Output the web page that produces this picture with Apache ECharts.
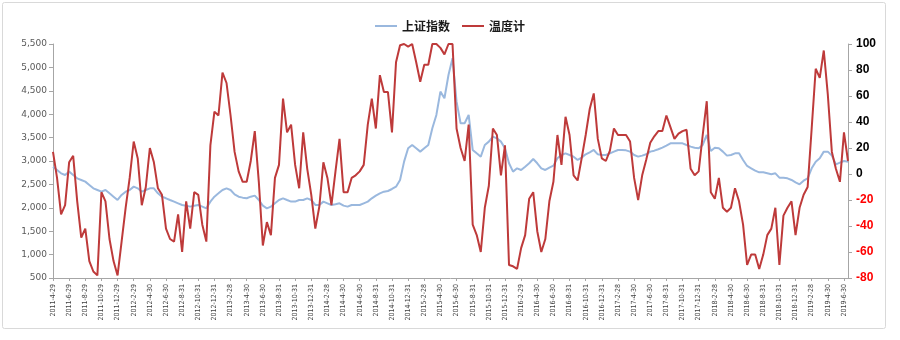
<!DOCTYPE html>
<html>
<head>
<meta charset="utf-8">
<script src="https://cdn.jsdelivr.net/npm/echarts@6/dist/echarts.min.js"></script>
<style>
html,body{margin:0;padding:0;background:#fff;}
#c{width:900px;height:340px;}
</style>
</head>
<body>
<div id="c"></div>
<script>
var tickLabels = ['2011-4-29','2011-6-29','2011-8-29','2011-10-29','2011-12-29','2012-2-29','2012-4-30','2012-6-30','2012-8-31','2012-10-31','2012-12-31','2013-2-28','2013-4-30','2013-6-30','2013-8-31','2013-10-31','2013-12-31','2014-2-28','2014-4-30','2014-6-30','2014-8-31','2014-10-31','2014-12-31','2015-2-28','2015-4-30','2015-6-30','2015-8-31','2015-10-31','2015-12-31','2016-2-29','2016-4-30','2016-6-30','2016-8-31','2016-10-31','2016-12-31','2017-2-28','2017-4-30','2017-6-30','2017-8-31','2017-10-31','2017-12-31','2018-2-28','2018-4-30','2018-6-30','2018-8-31','2018-10-31','2018-12-31','2019-2-28','2019-4-30','2019-6-30'];

// 上证指数 (about two points per month)
var szIndex = [2879,2808,2737,2701,2773,2701,2630,2595,2559,2488,2416,2381,2345,2381,2309,2238,2167,2274,2345,2381,
2452,2416,2345,2381,2416,2416,2309,2238,2203,2167,2132,2096,2060,2046,2025,2046,2060,2025,1989,2132,
2238,2309,2381,2416,2381,2288,2238,2217,2203,2238,2260,2167,2046,1989,2025,2096,2167,2203,2167,2132,
2132,2167,2167,2203,2167,2060,2060,2132,2096,2060,2075,2096,2046,2025,2060,2060,2060,2096,2132,2203,
2260,2309,2345,2359,2402,2452,2595,2986,3271,3342,3271,3200,3271,3342,3699,3984,4482,4340,4838,5194,
4268,3806,3806,3984,3236,3164,3093,3342,3414,3521,3485,3414,3271,2951,2773,2844,2808,2879,2951,3043,
2951,2844,2808,2858,2901,3058,3129,3164,3129,3093,3022,3072,3143,3186,3236,3143,3129,3129,3164,3200,
3236,3236,3228,3200,3129,3093,3115,3143,3200,3221,3250,3285,3328,3378,3378,3378,3378,3342,3307,3285,
3271,3342,3556,3214,3285,3271,3200,3115,3129,3164,3164,3022,2894,2844,2794,2758,2758,2737,2716,2737,
2644,2644,2630,2595,2545,2502,2580,2630,2844,2986,3058,3200,3200,3115,2929,2965,3001,2986];

// 温度计
var thermo = [17,-3,-31,-24,9,14,-21,-49,-42,-67,-75,-78,-14,-21,-50,-67,-78,-52,-26,-3,
25,12,-24,-10,20,9,-11,-16,-42,-50,-52,-31,-60,-21,-42,-14,-16,-39,-52,22,
48,45,78,70,45,17,2,-6,-6,10,33,-6,-55,-37,-47,-3,7,58,32,38,
7,-11,32,4,-16,-42,-25,9,-3,-24,2,27,-14,-14,-3,-1,2,7,38,58,
35,76,63,63,32,86,99,100,98,100,86,71,84,84,100,100,97,92,100,100,
35,20,10,38,-39,-47,-60,-26,-9,35,30,-1,22,-70,-71,-73,-57,-47,-19,-14,
-44,-60,-50,-21,-6,30,7,44,30,-1,-5,12,30,50,62,27,12,10,18,35,
30,30,30,25,-3,-20,-1,11,24,29,33,33,45,36,27,31,33,34,4,-1,
2,30,56,-14,-19,-3,-26,-29,-26,-11,-21,-39,-70,-62,-62,-73,-62,-47,-42,-26,
-70,-32,-26,-21,-47,-26,-16,-10,35,81,74,95,61,17,4,-6,32,10];

var categories = [];
for (var k = 0; k < thermo.length; k++) {
  var base = tickLabels[Math.floor(k / 4)] || tickLabels[tickLabels.length - 1];
  categories.push(k % 4 === 0 ? base : base + ' +' + (k % 4));
}

var chart = echarts.init(document.getElementById('c'), null, {renderer: 'canvas'});
chart.setOption({
  animation: false,
  backgroundColor: '#fff',
  graphic: [{
    type: 'rect', shape: {x: 2.5, y: 2.5, width: 883, height: 326, r: 2},
    style: {fill: 'none', stroke: '#d9d9d9', lineWidth: 1}, silent: true
  }],
  legend: {
    top: 15, left: 'center',
    itemWidth: 22, itemHeight: 2, itemGap: 12,
    textStyle: {fontSize: 12, fontWeight: 'bold', color: '#1a1a1a', fontFamily: 'Noto Sans CJK SC'},
    data: [{name: '上证指数', icon: 'rect'}, {name: '温度计', icon: 'rect'}]
  },
  grid: {left: 53, right: 52, top: 44, bottom: 62},
  xAxis: {
    type: 'category', data: categories, boundaryGap: false,
    axisLine: {onZero: false, lineStyle: {color: '#a6a6a6'}},
    axisTick: {interval: 3, length: 3, lineStyle: {color: '#a6a6a6'}},
    axisLabel: {interval: 3, rotate: 90, fontSize: 7, color: '#404040', margin: 6, fontFamily: 'DejaVu Sans Condensed, sans-serif'},
    splitLine: {show: false}
  },
  yAxis: [{
    type: 'value', min: 500, max: 5500, interval: 500, position: 'left',
    axisLine: {show: true, onZero: false, lineStyle: {color: '#a6a6a6'}},
    axisTick: {show: true, length: 4, lineStyle: {color: '#a6a6a6'}},
    axisLabel: {fontSize: 9, color: '#595959', margin: 6, fontFamily: 'DejaVu Sans, sans-serif',
      formatter: function (v) { return v.toLocaleString('en-US'); }},
    splitLine: {show: false}
  }, {
    type: 'value', min: -80, max: 100, interval: 20, position: 'right',
    axisLine: {show: true, onZero: false, lineStyle: {color: '#a6a6a6'}},
    axisTick: {show: true, length: 4, lineStyle: {color: '#a6a6a6'}},
    axisLabel: {fontSize: 12, fontWeight: 'bold', margin: 8, fontFamily: 'Liberation Sans, sans-serif',
      color: function (v) { return Number(v) < 0 ? '#ff0000' : '#000000'; }},
    splitLine: {show: false}
  }],
  series: [{
    name: '上证指数', type: 'line', yAxisIndex: 0, data: szIndex,
    symbol: 'none', lineStyle: {color: '#9ab8de', width: 2}, itemStyle: {color: '#9ab8de'}, z: 2
  }, {
    name: '温度计', type: 'line', yAxisIndex: 1, data: thermo,
    symbol: 'none', lineStyle: {color: '#be3a3a', width: 2}, itemStyle: {color: '#be3a3a'}, z: 3
  }]
});
</script>
</body>
</html>
